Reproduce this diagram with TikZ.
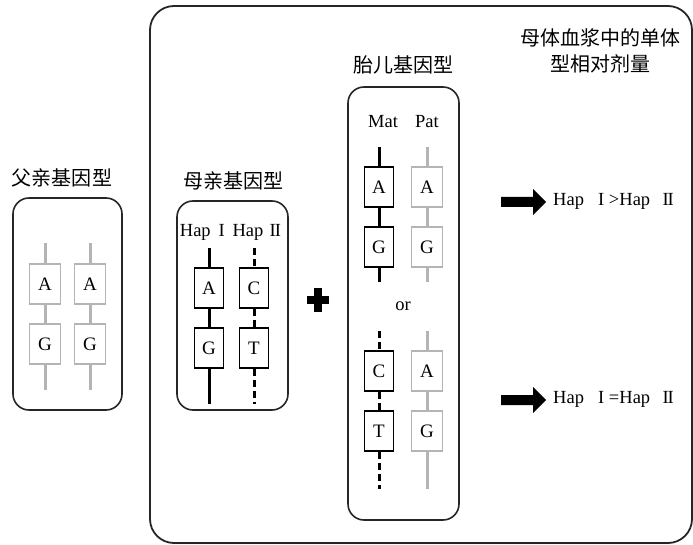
\documentclass[tikz,border=0pt]{standalone}
\usepackage{fontspec}
\setmainfont{Liberation Serif}
\newfontfamily\cjk{Noto Sans CJK SC}
\usetikzlibrary{calc}
\definecolor{lgray}{HTML}{B4B4B4}
\tikzset{
  frame/.style={draw=black!85, line width=1.6pt, rounded corners=16pt},
  bigframe/.style={draw=black!85, line width=1.8pt, rounded corners=24pt},
  gbox/.style={draw=lgray, line width=1.8pt, fill=white, minimum width=31pt, minimum height=40pt, inner sep=0pt, font=\fontsize{19}{21}\selectfont},
  bbox/.style={draw=black, line width=1.6pt, fill=white, minimum width=29pt, minimum height=40pt, inner sep=0pt, font=\fontsize{19}{21}\selectfont},
  gline/.style={draw=lgray, line width=3pt},
  bline/.style={draw=black, line width=3pt},
  dline/.style={draw=black, line width=3pt, dash pattern=on 7pt off 4pt},
  title/.style={font=\cjk\fontsize{20}{26}\selectfont, inner sep=0pt},
  lab/.style={font=\fontsize{18.5}{20}\selectfont, inner sep=0pt},
  fatarrow/.style={fill=black, draw=none}
}
\newcommand{\RI}{\makebox[0.85em]{I}}
\newcommand{\RII}{\makebox[0.95em]{I\kern-0.06em I}}
\begin{document}
\begin{tikzpicture}[x=1pt,y=-1pt]
\useasboundingbox (0,0) rectangle (693,545);
% big frame
\draw[bigframe] (150,6) rectangle (692,543);
% ---------- father ----------
\node[title] (ftitle) at (62,178) {父亲基因型};
\draw[frame] (13,198) rectangle (122,410);
\coordinate (f1t) at (45,243); \coordinate (f1b) at (45,390);
\coordinate (f2t) at (90,243); \coordinate (f2b) at (90,390);
\node[gbox] (fA1) at (45,284) {A};
\node[gbox] (fG1) at (45,344) {G};
\node[gbox] (fA2) at (90,284) {A};
\node[gbox] (fG2) at (90,344) {G};
\draw[gline] (f1t) -- (fA1.north) (fA1.south) -- (fG1.north) (fG1.south) -- (f1b);
\draw[gline] (f2t) -- (fA2.north) (fA2.south) -- (fG2.north) (fG2.south) -- (f2b);
% ---------- mother ----------
\node[title] (mtitle) at (233,181) {母亲基因型};
\draw[frame] (177,201) rectangle (288,410);
\node[lab] (mhap) at (232,232) {Hap\,\RI\,Hap\,\RII};
\coordinate (m1t) at (209,248); \coordinate (m1b) at (209,404);
\coordinate (m2t) at (254,248); \coordinate (m2b) at (254,404);
\node[bbox] (mA) at (209,288) {A};
\node[bbox] (mG) at (209,348) {G};
\node[bbox] (mC) at (254,288) {C};
\node[bbox] (mT) at (254,348) {T};
\draw[bline] (m1t) -- (mA.north) (mA.south) -- (mG.north) (mG.south) -- (m1b);
\draw[dline] (m2t) -- (mC.north) (mC.south) -- (mT.north) (mT.south) -- (m2b);
% plus
\fill (314,288) rectangle (322,312);
\fill (307,296) rectangle (329,304);
% ---------- fetus ----------
\node[title] (ptitle) at (403,65) {胎儿基因型};
\draw[frame] (348,87) rectangle (459,520);
\node[lab] (mat) at (383,122) {Mat};
\node[lab] (pat) at (427,122) {Pat};
\coordinate (u1t) at (379,147); \coordinate (u1b) at (379,282);
\coordinate (u2t) at (427,147); \coordinate (u2b) at (427,282);
\node[bbox] (uA1) at (379,187) {A};
\node[bbox] (uG1) at (379,247) {G};
\node[gbox] (uA2) at (427,187) {A};
\node[gbox] (uG2) at (427,247) {G};
\draw[bline] (u1t) -- (uA1.north) (uA1.south) -- (uG1.north) (uG1.south) -- (u1b);
\draw[gline] (u2t) -- (uA2.north) (uA2.south) -- (uG2.north) (uG2.south) -- (u2b);
\node[lab] (or) at (403,306) {or};
\coordinate (l1t) at (379,331); \coordinate (l1b) at (379,489);
\coordinate (l2t) at (427,331); \coordinate (l2b) at (427,489);
\node[bbox] (lC) at (379,371) {C};
\node[bbox] (lT) at (379,431) {T};
\node[gbox] (lA) at (427,371) {A};
\node[gbox] (lG) at (427,431) {G};
\draw[dline] (l1t) -- (lC.north) (lC.south) -- (lT.north) (lT.south) -- (l1b);
\draw[gline] (l2t) -- (lA.north) (lA.south) -- (lG.north) (lG.south) -- (l2b);
% ---------- result ----------
\node[title, align=center] (rtitle) at (600,51) {母体血浆中的单体\\型相对剂量};
\coordinate (a1s) at (501,202); \coordinate (a2s) at (501,400);
\node[lab, anchor=west] (r1) at (553,201) {Hap\ \ \RI{}>Hap\ \ \RII};
\node[lab, anchor=west] (r2) at (553,399) {Hap\ \ \RI{}=Hap\ \ \RII};
\foreach \s in {a1s,a2s}{
  \fill[fatarrow] ($(\s)+(0,-5)$) -- ++(32,0) -- ++(0,-8) -- ++(13,13) -- ++(-13,13) -- ++(0,-8) -- ++(-32,0) -- cycle;
}
\end{tikzpicture}
\end{document}
